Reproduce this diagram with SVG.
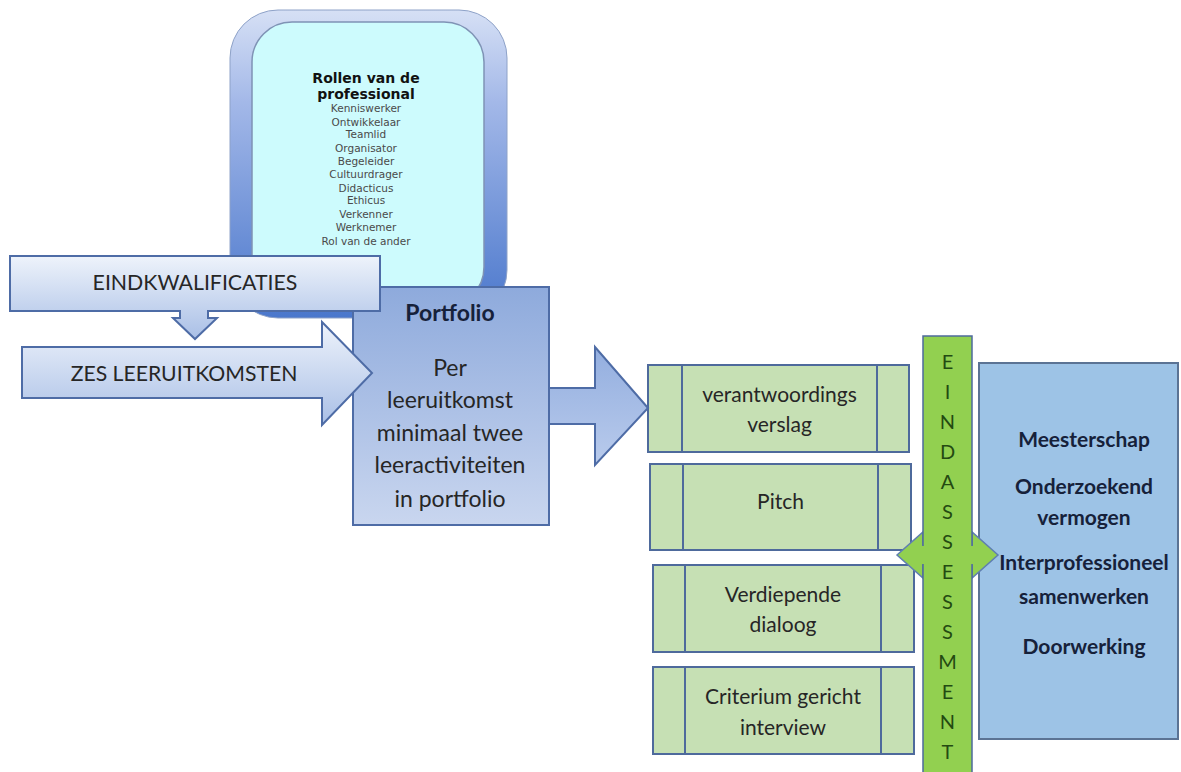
<svg xmlns="http://www.w3.org/2000/svg" width="1181" height="772" viewBox="0 0 1181 772">
<defs>
<linearGradient id="gArrow" x1="0" y1="0" x2="0" y2="1"><stop offset="0" stop-color="#eef3fb"/><stop offset="1" stop-color="#a9bfe6"/></linearGradient>
<linearGradient id="gPort" x1="0" y1="0" x2="0" y2="1"><stop offset="0" stop-color="#8eaadc"/><stop offset="1" stop-color="#c9d6ef"/></linearGradient>
<linearGradient id="gBig" x1="0" y1="0" x2="0" y2="1"><stop offset="0" stop-color="#93aedf"/><stop offset="1" stop-color="#b9cbec"/></linearGradient>
<linearGradient id="gOuter" x1="0" y1="0" x2="0" y2="1"><stop offset="0" stop-color="#d6e0f5"/><stop offset="0.3" stop-color="#a3b8e8"/><stop offset="1" stop-color="#4a77cc"/></linearGradient>
<style>
.lbl{font-family:Lato,"Open Sans","Liberation Sans",sans-serif;fill:#262626;text-anchor:middle}
.bold{font-weight:bold}
.green{fill:#c6e0b4;stroke:#4e6a9c;stroke-width:2}
.gline{stroke:#4e6a9c;stroke-width:2}
.blueStroke{stroke:#4e6ca6;stroke-width:2}
.roles{font-family:"DejaVu Sans",Verdana,sans-serif;text-anchor:middle;fill:#4a4a4a;font-size:10.5px}
.letter{font-family:Lato,"Open Sans","Liberation Sans",sans-serif;font-size:20px;fill:#244a12;text-anchor:middle}
.navy{fill:#16213a}
</style>
</defs>

<g id="rollen">
<rect x="230" y="10" width="277" height="308" rx="48" fill="url(#gOuter)" stroke="#8ea2c8" stroke-width="1"/>
<rect x="252" y="22" width="232" height="285" rx="40" fill="#cdfbfd" stroke="#7f93b5" stroke-width="1.5"/>
<text x="366" y="83" font-family="'DejaVu Sans',Verdana,sans-serif" font-weight="bold" font-size="14px" fill="#111" text-anchor="middle">Rollen van de</text>
<text x="366" y="99" font-family="'DejaVu Sans',Verdana,sans-serif" font-weight="bold" font-size="14px" fill="#111" text-anchor="middle">professional</text>
<text class="roles" x="366" y="112">Kenniswerker</text>
<text class="roles" x="366" y="125.5">Ontwikkelaar</text>
<text class="roles" x="366" y="138">Teamlid</text>
<text class="roles" x="366" y="152">Organisator</text>
<text class="roles" x="366" y="165">Begeleider</text>
<text class="roles" x="366" y="178">Cultuurdrager</text>
<text class="roles" x="366" y="192">Didacticus</text>
<text class="roles" x="366" y="204">Ethicus</text>
<text class="roles" x="366" y="218">Verkenner</text>
<text class="roles" x="366" y="231">Werknemer</text>
<text class="roles" x="366" y="245">Rol van de ander</text>
</g>

<g id="portfolio">
<rect x="353" y="287" width="196" height="238" fill="url(#gPort)" class="blueStroke"/>
<text class="lbl bold navy" x="450" y="321" font-size="23px">Portfolio</text>
<text class="lbl" x="450" y="376" font-size="23px">Per</text>
<text class="lbl" x="450" y="408" font-size="23px">leeruitkomst</text>
<text class="lbl" x="450" y="441" font-size="23px">minimaal twee</text>
<text class="lbl" x="450" y="473" font-size="23px">leeractiviteiten</text>
<text class="lbl" x="450" y="507" font-size="23px">in portfolio</text>
</g>

<g id="eindkwalificaties">
<polygon points="10,256 380,256 380,311 208,311 208,318 217,318 195,339 173,318 180,318 180,311 10,311" fill="url(#gArrow)" class="blueStroke"/>
<text class="lbl" x="195" y="290" font-size="21.3px">EINDKWALIFICATIES</text>
</g>

<g id="zes">
<polygon points="22,347 322,347 322,322 372,373 322,425 322,398 22,398" fill="url(#gArrow)" class="blueStroke"/>
<text class="lbl" x="184" y="381" font-size="21.2px">ZES LEERUITKOMSTEN</text>
</g>

<g id="box-verantwoording">
<rect x="648" y="365" width="261" height="87" class="green"/>
<line x1="682" y1="365" x2="682" y2="452" class="gline"/>
<line x1="877" y1="365" x2="877" y2="452" class="gline"/>
<text class="lbl" x="779.5" y="402" font-size="21px">verantwoordings</text>
<text class="lbl" x="779.5" y="432" font-size="21px">verslag</text>
</g>

<g id="box-pitch">
<rect x="650" y="464" width="261" height="86" class="green"/>
<line x1="683" y1="464" x2="683" y2="550" class="gline"/>
<line x1="878" y1="464" x2="878" y2="550" class="gline"/>
<text class="lbl" x="780.5" y="509" font-size="21px">Pitch</text>
</g>

<g id="box-dialoog">
<rect x="653" y="565" width="261" height="87" class="green"/>
<line x1="685" y1="565" x2="685" y2="652" class="gline"/>
<line x1="881" y1="565" x2="881" y2="652" class="gline"/>
<text class="lbl" x="783" y="602" font-size="21px">Verdiepende</text>
<text class="lbl" x="783" y="632" font-size="21px">dialoog</text>
</g>

<g id="box-interview">
<rect x="653" y="667" width="261" height="87" class="green"/>
<line x1="685" y1="667" x2="685" y2="754" class="gline"/>
<line x1="881" y1="667" x2="881" y2="754" class="gline"/>
<text class="lbl" x="783" y="704" font-size="21px">Criterium gericht</text>
<text class="lbl" x="783" y="735" font-size="21px">interview</text>
</g>

<g id="competenties">
<rect x="979" y="363" width="199" height="376" fill="#9dc3e6" stroke="#5b7394" stroke-width="2"/>
<text class="lbl bold navy" x="1084" y="447" font-size="21px">Meesterschap</text>
<text class="lbl bold navy" x="1084" y="494" font-size="21px">Onderzoekend</text>
<text class="lbl bold navy" x="1084" y="525" font-size="21px">vermogen</text>
<text class="lbl bold navy" x="1084" y="570" font-size="21px">Interprofessioneel</text>
<text class="lbl bold navy" x="1084" y="604" font-size="21px">samenwerken</text>
<text class="lbl bold navy" x="1084" y="654" font-size="21px">Doorwerking</text>
</g>

<g id="connectors">
<polygon points="549,388 595,388 595,347 648,408 595,465 595,424 549,424" fill="url(#gBig)" class="blueStroke"/>
<polygon points="897,555 923,532 923,545 972,545 972,532 998,555 972,578 972,565 923,565 923,578" fill="#92d050" stroke="#5f7fb0" stroke-width="1.5"/>
</g>

<g id="eindassessment">
<rect x="923" y="336" width="49" height="445" fill="#92d050" stroke="#4e6a9c" stroke-width="1.5"/>
<rect x="921" y="546" width="53" height="18" fill="#92d050"/>
<text class="letter" x="947.5" y="369">E</text>
<text class="letter" x="947.5" y="399">I</text>
<text class="letter" x="947.5" y="429">N</text>
<text class="letter" x="947.5" y="459">D</text>
<text class="letter" x="947.5" y="489">A</text>
<text class="letter" x="947.5" y="519">S</text>
<text class="letter" x="947.5" y="549">S</text>
<text class="letter" x="947.5" y="579">E</text>
<text class="letter" x="947.5" y="609">S</text>
<text class="letter" x="947.5" y="639">S</text>
<text class="letter" x="947.5" y="669">M</text>
<text class="letter" x="947.5" y="699">E</text>
<text class="letter" x="947.5" y="729">N</text>
<text class="letter" x="947.5" y="759">T</text>
</g>
</svg>
